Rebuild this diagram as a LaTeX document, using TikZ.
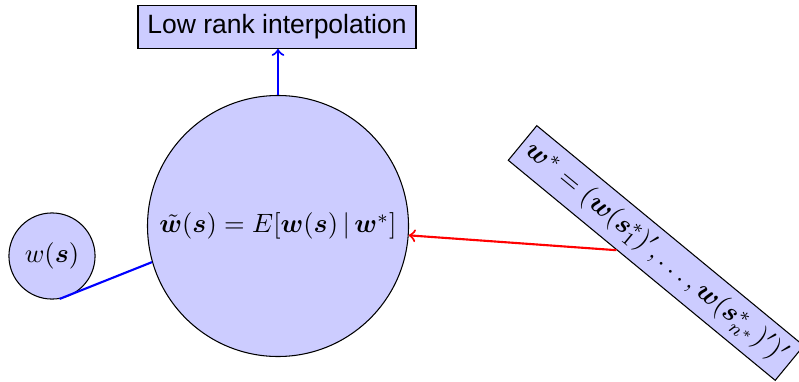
\documentclass[tikz,border=0pt]{standalone}
\usepackage{amsmath,bm}
\usepackage{fontspec}
\newfontfamily\lsans{Liberation Sans}
\begin{document}
\begin{tikzpicture}[x=0.3774pt,y=-0.3774pt,
  nd/.style={draw=black, fill=blue!20, line width=0.4pt},
  blueline/.style={blue, thick},
  redline/.style={red, thick}]
\useasboundingbox (0,0) rectangle (799,381);
\node[nd, circle, minimum size=98.5pt, inner sep=0pt] (big) at (278,226)
  {$\tilde{\bm w}(\bm s) = E[\bm w(\bm s)\,|\,\bm w^*]$};
\node[nd, rectangle, minimum width=104.9pt, minimum height=16.2pt, inner sep=1pt, font=\lsans] (lr) at (277,27) {Low rank interpolation};
\node[nd, circle, minimum size=32.5pt, inner sep=0pt] (w) at (52,256) {$w(\bm s)$};
\node[nd, rectangle, rotate=-39.5, minimum width=128pt, minimum height=16.6pt, inner sep=1pt, scale=1.02] (ws) at (656,253)
  {$\bm w^* = (\bm w(\bm s_1^*)', \ldots, \bm w(\bm s_{n^*}^*)')'$};
\draw[blueline, ->] (big.north) -- (big.north |- lr.south);
\draw[blueline] (w.-80) -- (big.196);
\draw[redline, ->] (ws) -- (big);
\end{tikzpicture}
\end{document}
